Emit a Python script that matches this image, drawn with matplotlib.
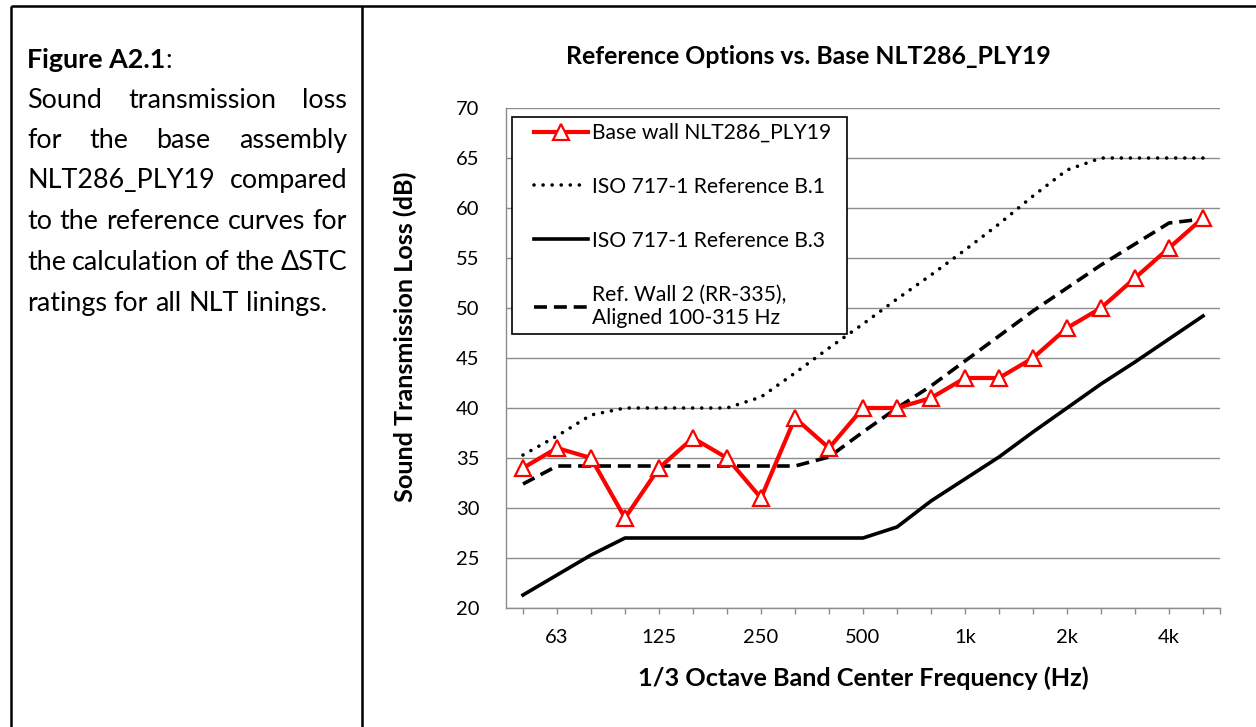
import numpy as np
import matplotlib.pyplot as plt
from matplotlib.lines import Line2D
from matplotlib.legend_handler import HandlerLine2D

plt.rcParams['font.family'] = ['Lato', 'DejaVu Sans']

# 1/3 octave bands, 50 Hz - 5 kHz
bands = ['50', '63', '80', '100', '125', '160', '200', '250', '315', '400', '500',
         '630', '800', '1k', '1250', '1600', '2k', '2500', '3150', '4k', '5000']
shown_labels = ['63', '125', '250', '500', '1k', '2k', '4k']

base_wall = [34, 36, 35, 29, 34, 37, 35, 31, 39, 36, 40,
             40, 41, 43, 43, 45, 48, 50, 53, 56, 59]
ref_b1 = [35.3, 37.2, 39.3, 40, 40, 40, 40, 41.1, 43.5, 46, 48.4,
          50.9, 53.3, 55.8, 58.4, 61.2, 63.8, 65, 65, 65, 65]
ref_b3 = [21.3, 23.3, 25.3, 27, 27, 27, 27, 27, 27, 27, 27,
          28.1, 30.7, 32.9, 35.1, 37.6, 40, 42.4, 44.6, 46.9, 49.2]
ref_wall2 = [32.4, 34.2, 34.2, 34.2, 34.2, 34.2, 34.2, 34.2, 34.2, 35.1, 37.6,
             40, 42.2, 44.7, 47.2, 49.7, 52, 54.3, 56.4, 58.5, 58.9]

W, H = 1256, 727
fig = plt.figure(figsize=(W / 100, H / 100), dpi=100)
renderer = fig.canvas.get_renderer()

# table borders
border = dict(color='black', lw=1.8, solid_capstyle='butt')
fig.add_artist(Line2D([11 / W, 1], [1 - 6 / H, 1 - 6 / H], **border))
fig.add_artist(Line2D([11 / W, 11 / W], [0, 1 - 6 / H], **border))
fig.add_artist(Line2D([362 / W, 362 / W], [0, 1 - 6 / H], **border))

# left cell text (justified like in Word)
x_left, x_right = 27, 347
probe = fig.text(0, 0, 'to the reference curves for', fontsize=16)
body_size = 16 * 318 / probe.get_window_extent(renderer).width
probe.remove()


def put_line(words, base_y, justify=True):
    ts = [fig.text(0, 1 - base_y / H, w, fontsize=body_size, va='baseline') for w in words]
    ws = [t.get_window_extent(renderer).width for t in ts]
    if justify:
        gap = (x_right - x_left - sum(ws)) / (len(ws) - 1)
    else:
        sp = fig.text(0, 0, 'a a', fontsize=body_size)
        sp2 = fig.text(0, 0, 'aa', fontsize=body_size)
        gap = sp.get_window_extent(renderer).width - sp2.get_window_extent(renderer).width
        sp.remove()
        sp2.remove()
    xp = x_left
    for t, w in zip(ts, ws):
        t.set_x(xp / W)
        xp += w + gap


t1 = fig.text(x_left / W, 1 - 68 / H, 'Figure A2.1', fontsize=body_size, weight='bold', va='baseline')
w1 = t1.get_window_extent(renderer).width
fig.text((x_left + w1) / W, 1 - 68 / H, ':', fontsize=body_size, va='baseline')
put_line(['Sound', 'transmission', 'loss'], 108)
put_line(['for', 'the', 'base', 'assembly'], 148)
put_line(['NLT286_PLY19', 'compared'], 188)
put_line(['to', 'the', 'reference', 'curves', 'for'], 229)
put_line(['the', 'calculation', 'of', 'the', 'ΔSTC'], 270)
put_line(['ratings', 'for', 'all', 'NLT', 'linings.'], 311, justify=False)

# chart
ax = fig.add_axes([506 / W, 1 - 608 / H, 714 / W, 500 / H])
x = np.arange(len(bands))

h_b1, = ax.plot(x, ref_b1, color='black', lw=2.6, linestyle=(0, (0.01, 2.5)),
                dash_capstyle='round', label='ISO 717-1 Reference B.1', zorder=3)
h_b3, = ax.plot(x, ref_b3, color='black', lw=2.6, label='ISO 717-1 Reference B.3', zorder=3)
h_w2, = ax.plot(x, ref_wall2, color='black', lw=2.6, linestyle=(0, (3.6, 1.9)),
                label='Ref. Wall 2 (RR-335),\nAligned 100-315 Hz', zorder=3)
h_base, = ax.plot(x, base_wall, color='#ff0000', lw=3, marker='^', markersize=12,
                  markerfacecolor='white', markeredgecolor='#ff0000', markeredgewidth=1.6,
                  label='Base wall NLT286_PLY19', zorder=4)

ax.set_xlim(-0.5, 20.5)
ax.set_ylim(20, 70)
ax.set_yticks(np.arange(20, 71, 5))
ax.set_xticks(x)
ax.set_xticklabels([b if b in shown_labels else '' for b in bands])
ax.set_xticks([20.5], minor=True)

grey = '#8c8c8c'
ax.grid(axis='y', color=grey, lw=1)
ax.set_axisbelow(True)
for s in ['top', 'right']:
    ax.spines[s].set_visible(False)
for s in ['left', 'bottom']:
    ax.spines[s].set_color(grey)
    ax.spines[s].set_linewidth(1)
ax.tick_params(axis='x', which='both', length=4, color=grey, width=1, pad=11, labelsize=14.5)
ax.tick_params(axis='y', length=0, pad=19, labelsize=14.5)

ax.set_xlabel('1/3 Octave Band Center Frequency (Hz)', fontsize=18.2, weight='bold', va='center')
ax.xaxis.set_label_coords(0.5, -0.14)
ax.set_ylabel('Sound Transmission Loss (dB)', fontsize=18.2, weight='bold', va='center')
ax.yaxis.set_label_coords(-0.141, 0.542)

fig.text(808 / W, 1 - 57 / H, 'Reference Options vs. Base NLT286_PLY19',
         fontsize=17.9, weight='bold', ha='center', va='center')

leg_top = (608 - 116.7) / 500
leg = ax.legend(handles=[h_base, h_b1, h_b3, h_w2], loc='upper left',
                bbox_to_anchor=(6 / 714, leg_top - 0.5, 335 / 714, 0.5), mode='expand',
                borderaxespad=0, fancybox=False, edgecolor='black', framealpha=1,
                fontsize=15.2, handlelength=3.3, handletextpad=0.2, labelspacing=1.6,
                borderpad=0.3, handler_map={Line2D: HandlerLine2D(xpad=0.75)})
leg.get_frame().set_linewidth(1.2)

fig.savefig('out.png', dpi=100)
